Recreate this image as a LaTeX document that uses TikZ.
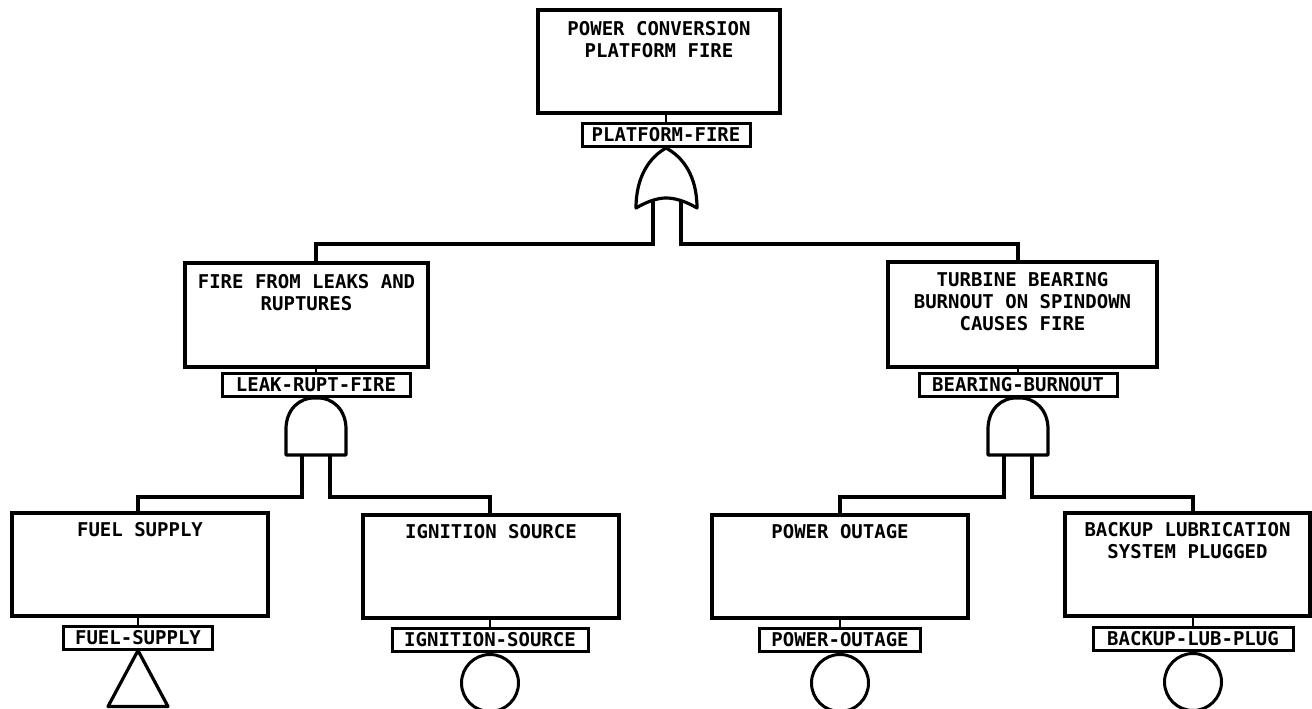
\documentclass[tikz,border=0pt]{standalone}
\usepackage{fontspec}
\setmainfont{DejaVu Sans Mono}
\begin{document}
\begin{tikzpicture}[x=1pt,y=-1pt,
  evbox/.style={draw, line width=3.2pt, rectangle, inner sep=0pt},
  evtext/.style={anchor=north, align=center, inner sep=0pt, font=\fontsize{19}{22}\selectfont\bfseries},
  idbox/.style={draw, line width=3pt, rectangle, inner sep=0pt, minimum height=23pt, font=\fontsize{19}{22}\selectfont\bfseries},
  gate/.style={draw, line width=3.2pt, line join=round},
  wire/.style={draw, line width=3.2pt},
  stub/.style={draw, line width=2pt},
  basic/.style={draw, circle, line width=3pt, minimum size=57pt, inner sep=0pt, anchor=north}
]
\useasboundingbox (0,0) rectangle (1312,709);

% ---------- top event ----------
\node[evbox, minimum width=242pt, minimum height=103pt] (top) at (659,61.5) {};
\node[evtext] (toptxt) at ([yshift=-13pt]top.north) {POWER CONVERSION\\PLATFORM FIRE};
\node[idbox, minimum width=168pt] (topL) at (666,135) {PLATFORM-FIRE};
\draw[stub] (topL.north) -- (topL.north |- top.south);

% OR gate
\draw[gate] (topL.south) .. controls (650,157) and (636,176) .. (636,208)
  .. controls (648,201) and (658,198) .. (666,198)
  .. controls (675,198) and (685,201) .. (697,208)
  .. controls (697,176) and (683,157) .. (topL.south) -- cycle;
\coordinate (orL) at (653,200);
\coordinate (orLb) at (653,244);
\coordinate (orR) at (681,200);
\coordinate (orRb) at (681,244);

% ---------- middle left ----------
\node[evbox, minimum width=243pt, minimum height=104pt] (ml) at (306.5,315) {};
\node[evtext] (mltxt) at ([yshift=-13pt]ml.north) {FIRE FROM LEAKS AND\\RUPTURES};
\node[idbox, minimum width=188pt] (mlL) at (316,385) {LEAK-RUPT-FIRE};
\draw[stub] (mlL.north) -- (mlL.north |- ml.south);
\draw[wire] (orL) -- (orLb) -| (mlL.north |- ml.north);

% AND gate left
\draw[gate] (286,455) -- (286,429) .. controls (286,410) and (299,397) .. (mlL.south)
  .. controls (333,397) and (346,410) .. (346,429) -- (346,455) -- cycle;
\coordinate (alL) at (302,455);
\coordinate (alLb) at (302,497);
\coordinate (alR) at (330,455);
\coordinate (alRb) at (330,497);

% ---------- middle right ----------
\node[evbox, minimum width=269pt, minimum height=105pt] (mr) at (1022.5,314.5) {};
\node[evtext] (mrtxt) at ([yshift=-12pt]mr.north) {TURBINE BEARING\\BURNOUT ON SPINDOWN\\CAUSES FIRE};
\node[idbox, minimum width=198pt] (mrL) at (1018,385) {BEARING-BURNOUT};
\draw[stub] (mrL.north) -- (mrL.north |- mr.south);
\draw[wire] (orR) -- (orRb) -| (mrL.north |- mr.north);

% AND gate right
\draw[gate] (988,455) -- (988,429) .. controls (988,410) and (1001,397) .. (mrL.south)
  .. controls (1035,397) and (1048,410) .. (1048,429) -- (1048,455) -- cycle;
\coordinate (arL) at (1004,455);
\coordinate (arLb) at (1004,497);
\coordinate (arR) at (1032,455);
\coordinate (arRb) at (1032,497);

% ---------- bottom row ----------
% fuel supply
\node[evbox, minimum width=256pt, minimum height=103pt] (fuel) at (140,564.5) {};
\node[evtext] (fueltxt) at ([yshift=-11pt]fuel.north) {FUEL SUPPLY};
\node[idbox, minimum width=149pt] (fuelL) at (138,637.5) {FUEL-SUPPLY};
\draw[stub] (fuelL.north) -- (fuelL.north |- fuel.south);
\draw[wire] (alL) -- (alLb) -| (fuelL.north |- fuel.north);
\draw[gate] (fuelL.south) -- ++(-30,56) -- ++(60,0) -- cycle;

% ignition source
\node[evbox, minimum width=256pt, minimum height=103pt] (ign) at (491,566.5) {};
\node[evtext] (igntxt) at ([yshift=-11pt]ign.north) {IGNITION SOURCE};
\node[idbox, minimum width=196pt] (ignL) at (490,640) {IGNITION-SOURCE};
\draw[stub] (ignL.north) -- (ignL.north |- ign.south);
\draw[wire] (alR) -- (alRb) -| (ignL.north |- ign.north);
\node[basic] (ignC) at (ignL.south) {};

% power outage
\node[evbox, minimum width=256pt, minimum height=103pt] (pow) at (840,566.5) {};
\node[evtext] (powtxt) at ([yshift=-11pt]pow.north) {POWER OUTAGE};
\node[idbox, minimum width=161pt] (powL) at (840,640) {POWER-OUTAGE};
\draw[stub] (powL.north) -- (powL.north |- pow.south);
\draw[wire] (arL) -- (arLb) -| (powL.north |- pow.north);
\node[basic] (powC) at (powL.south) {};

% backup lubrication
\node[evbox, minimum width=245pt, minimum height=103pt] (bak) at (1187.5,564.5) {};
\node[evtext] (baktxt) at ([yshift=-11pt]bak.north) {BACKUP LUBRICATION\\SYSTEM PLUGGED};
\node[idbox, minimum width=200pt] (bakL) at (1193,639) {BACKUP-LUB-PLUG};
\draw[stub] (bakL.north) -- (bakL.north |- bak.south);
\draw[wire] (arR) -- (arRb) -| (bakL.north |- bak.north);
\node[basic] (bakC) at (bakL.south) {};
\end{tikzpicture}
\end{document}
